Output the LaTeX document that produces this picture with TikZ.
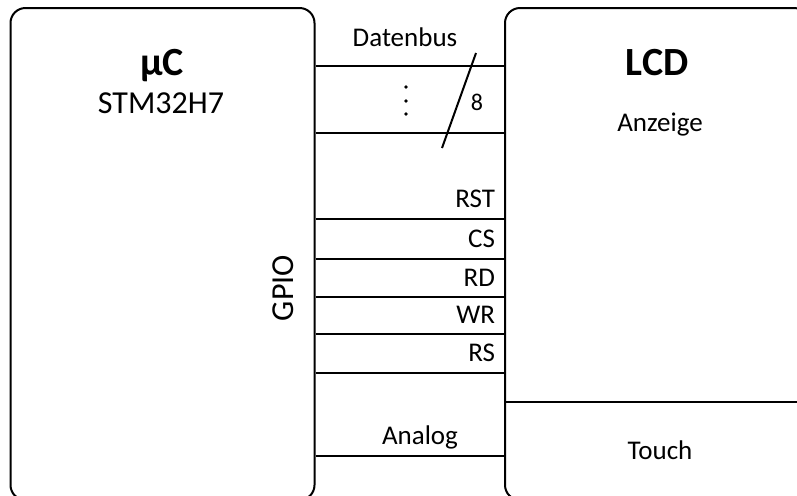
\documentclass[tikz,border=0pt]{standalone}
\usepackage{fontspec}
\setmainfont{Carlito}
\usetikzlibrary{calc}
\newcommand{\LblFont}{\fontsize{13.5}{16}\selectfont}
\tikzset{blk/.style={draw,line width=1pt,rounded corners=7.5pt,minimum width=152pt,minimum height=246pt}}
\tikzset{lbl/.style={font=\LblFont,inner sep=0pt}}
\tikzset{ttl/.style={font=\bfseries\fontsize{20}{24}\selectfont,inner sep=0pt}}
\tikzset{sig/.style={font=\LblFont,anchor=south east,inner xsep=4pt,inner ysep=5pt}}

\begin{document}
\begin{tikzpicture}[x=0.5pt,y=-0.5pt,line width=1pt]
\useasboundingbox(0,0)rectangle(797,495);
\node[blk](mc)at(162.5,254){};\node[blk](lcd)at(657,254){};
\node[ttl](mcname)at(162,66){µC};\node[lbl,font=\fontsize{16}{19}\selectfont](mctype)at(161,103){STM32H7};
\node[ttl](lcdname)at(657,63){LCD};\node[lbl](lcdtype)at(660,125){Anzeige};
\node[lbl,rotate=90,font=\fontsize{16}{19}\selectfont](gpio)at(283,288){GPIO};
% Datenbus
\draw(mc.east|-0,66)--(lcd.west|-0,66);\draw(mc.east|-0,133)--(lcd.west|-0,133);
\node[lbl](bus)at(405,37){Datenbus};
\fill(406,87)circle(0.9pt)(406,101)circle(0.9pt)(406,114)circle(0.9pt);
\coordinate(bt)at(476,53);\coordinate(bb)at(442,148);\draw(bt)--(bb);
\node[lbl,font=\fontsize{12}{14}\selectfont](width)at(477,102){8};
% Steuerleitungen
\foreach \y/\s in {219/RST,259/CS,297/RD,334/WR,373/RS}{
\draw(mc.east|-0,\y)--(lcd.west|-0,\y);\node[sig](\s)at(lcd.west|-0,\y){\s};}
% Touch
\draw(lcd.west|-0,402)--(lcd.east|-0,402);
\node[lbl](touch)at(660,450){Touch};
\draw(mc.east|-0,456)--(lcd.west|-0,456);
\node[lbl](analog)at(420,437){Analog};
\end{tikzpicture}
\end{document}
